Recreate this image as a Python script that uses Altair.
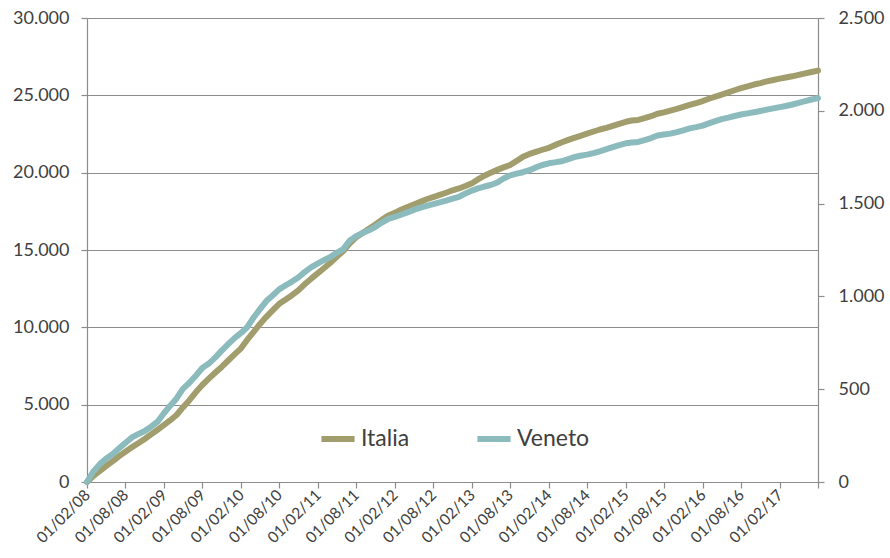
import altair as alt
import pandas as pd

# Cumulative monthly totals, Feb 2008 - Aug 2017
italia = [
    0, 380, 700, 1030, 1330, 1660, 1960, 2240, 2500, 2780,
    3080, 3380, 3690, 3980, 4330, 4820, 5290, 5800, 6270, 6680,
    7060, 7440, 7840, 8250, 8640, 9170, 9690, 10200, 10680, 11100,
    11520, 11800, 12080, 12400, 12800, 13160, 13500, 13820, 14180, 14560,
    14930, 15420, 15820, 16100, 16380, 16650, 16950, 17230, 17400, 17600,
    17770, 17940, 18110, 18280, 18420, 18560, 18700, 18860, 18980, 19140,
    19320, 19560, 19800, 20000, 20180, 20340, 20500, 20760, 21030, 21210,
    21340, 21480, 21610, 21780, 21950, 22100, 22250, 22380, 22520, 22660,
    22790, 22900, 23030, 23160, 23290, 23370, 23410, 23520, 23650, 23810,
    23900, 24010, 24120, 24250, 24380, 24500, 24630, 24780, 24920, 25050,
    25190, 25330, 25470, 25580, 25700, 25790, 25900, 25990, 26080, 26150,
    26230, 26320, 26420, 26510, 26600,
]
veneto = [
    0, 55, 95, 125, 150, 180, 210, 240, 258, 275,
    298, 325, 372, 410, 450, 502, 535, 572, 614, 638,
    670, 708, 742, 775, 803, 832, 885, 930, 975, 1005,
    1038, 1060, 1080, 1103, 1132, 1158, 1178, 1195, 1212, 1235,
    1255, 1300, 1325, 1342, 1356, 1375, 1398, 1418, 1428, 1440,
    1453, 1466, 1478, 1488, 1497, 1507, 1516, 1527, 1536, 1555,
    1570, 1582, 1592, 1600, 1614, 1635, 1652, 1661, 1669, 1680,
    1695, 1708, 1717, 1722, 1728, 1738, 1750, 1758, 1764, 1772,
    1782, 1793, 1804, 1815, 1825, 1829, 1832, 1842, 1853, 1867,
    1872, 1877, 1885, 1895, 1905, 1912, 1920, 1932, 1944, 1955,
    1963, 1972, 1980, 1986, 1992, 1999, 2006, 2013, 2020, 2026,
    2034, 2043, 2052, 2061, 2068,
]
serie_nomi = ["Italia", "Veneto"]
colori = ["#A19D6C", "#8CBBBD"]
ticks_sx = [0, 5000, 10000, 15000, 20000, 25000, 30000]
ticks_dx = [0, 500, 1000, 1500, 2000, 2500]
anni = list(range(2008, 2018))

n = len(italia)
mesi = pd.date_range("2008-02-01", periods=n, freq="MS")
df = pd.DataFrame({
    "data": list(mesi) * 2,
    "serie": ["Italia"] * n + ["Veneto"] * n,
    "valore": italia + veneto,
})

tick_date = []
for a in anni:
    tick_date.append(alt.DateTime(year=a, month=2, date=1))
    tick_date.append(alt.DateTime(year=a, month=8, date=1))

GRIGIO = "#8C8C8C"
TESTO = "#404040"
FONT = "Lato"

x_enc = alt.X(
    "data:T",
    scale=alt.Scale(domain=[alt.DateTime(year=2008, month=2, date=1),
                            alt.DateTime(year=2017, month=8, date=1)]),
    axis=alt.Axis(
        title=None, values=tick_date, grid=False,
        labelExpr="datum.value >= datetime(2017, 6, 1) ? '' : timeFormat(datum.value, '%d/%m/%y')",
        labelAngle=-45, labelAlign="right", labelBaseline="middle",
        labelFontSize=15.5, labelPadding=4, labelOverlap=False,
        tickSize=6, labelBound=False, labelFlush=False,
    ),
)

colore = alt.Color(
    "serie:N",
    scale=alt.Scale(domain=serie_nomi, range=colori),
    legend=alt.Legend(
        title=None, orient="none", direction="horizontal",
        legendX=231, legendY=401, padding=0,
        symbolType="stroke", symbolSize=1100, symbolStrokeWidth=6,
        labelFontSize=23, labelFont=FONT, labelColor=TESTO,
        labelOffset=3, columnPadding=55,
    ),
)

linea = dict(strokeWidth=6, strokeCap="round", strokeJoin="round")

ita = alt.Chart(df).transform_filter(alt.datum.serie == "Italia").mark_line(**linea).encode(
    x=x_enc,
    y=alt.Y(
        "valore:Q",
        scale=alt.Scale(domain=[0, 30000], nice=False, zero=True),
        axis=alt.Axis(
            title=None, values=ticks_sx, orient="left", grid=True,
            labelExpr="replace(format(datum.value, ','), ',', '.')",
            labelFontSize=18, labelPadding=12, tickSize=6,
        ),
    ),
    color=colore,
)

ven = alt.Chart(df).transform_filter(alt.datum.serie == "Veneto").mark_line(**linea).encode(
    x=x_enc,
    y=alt.Y(
        "valore:Q",
        scale=alt.Scale(domain=[0, 2500], nice=False, zero=True),
        axis=alt.Axis(
            title=None, values=ticks_dx, orient="right", grid=False,
            labelExpr="replace(format(datum.value, ','), ',', '.')",
            labelFontSize=18, labelPadding=14, tickSize=6,
        ),
    ),
    color=colore,
)

chart = (
    alt.layer(ita, ven)
    .resolve_scale(y="independent")
    .properties(
        width=731, height=464,
        autosize=alt.AutoSizeParams(type="none"),
        padding={"left": 87, "top": 18, "right": 72, "bottom": 76},
        background="white",
    )
    .configure_view(stroke=None)
    .configure_axis(
        domainColor=GRIGIO, tickColor=GRIGIO, gridColor=GRIGIO,
        domainWidth=1.2, tickWidth=1.2, gridWidth=1.2,
        labelColor=TESTO, labelFont=FONT,
    )
)

chart.save("out.html", embed_options={"renderer": "svg", "actions": False})
